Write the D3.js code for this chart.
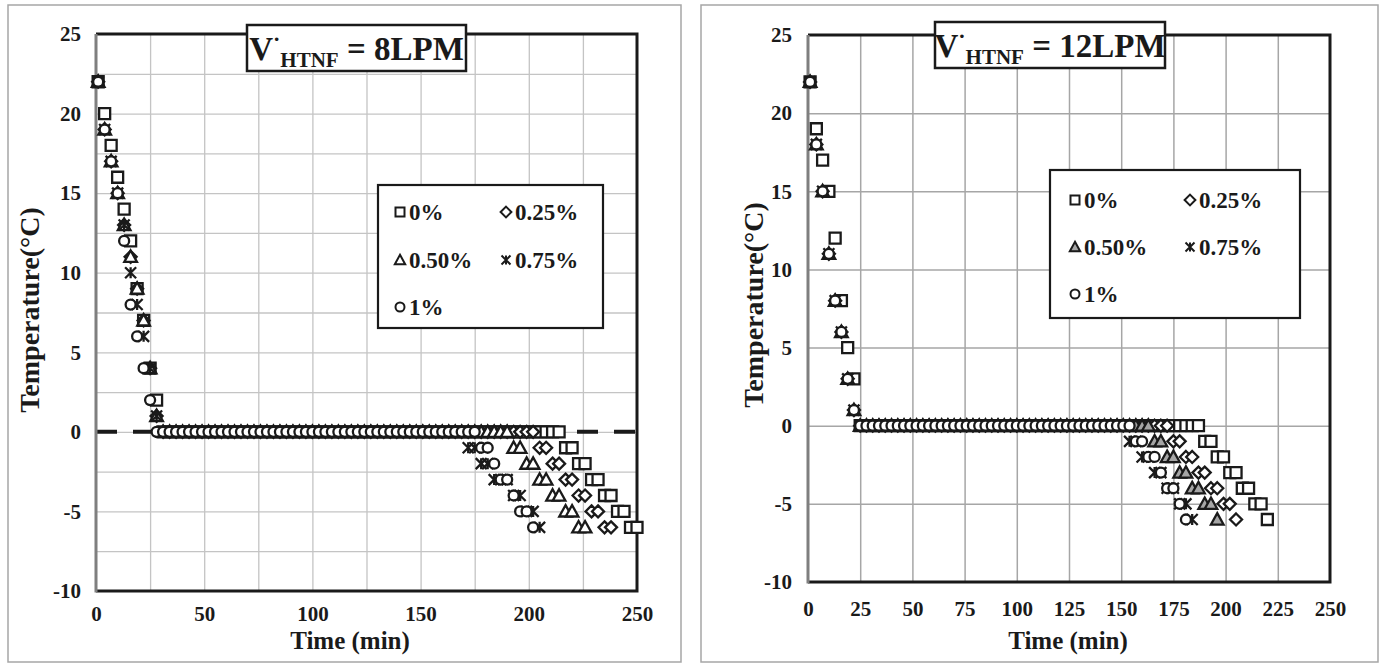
<!DOCTYPE html>
<html>
<head>
<meta charset="utf-8">
<script src="https://cdn.jsdelivr.net/npm/d3@7"></script>
<style>
  body { margin: 0; background: #ffffff; }
  svg text { font-family: "Liberation Serif", "Times New Roman", serif; font-weight: bold; fill: #1a1a1a; }
</style>
</head>
<body>
<svg id="chart" width="1383" height="668"></svg>
<script>
// Sampling instants (min) shared by every run
const timeMin = [1,4,7,10,13,16,19,22,25,28,31,34,37,40,43,46,49,52,55,58,61,64,67,70,73,76,79,82,85,88,
  91,94,97,100,103,106,109,112,115,118,121,124,127,130,133,136,139,142,145,148,151,154,157,160,163,166,169,172,175,178,
  181,184,187,190,193,196,199,202,205,208,211,214,217,220,223,226,229,232,235,238,241,244,247,250];

const seriesNames = ["0%", "0.25%", "0.50%", "0.75%", "1%"];

// Temperature (°C) at each sampling instant, 8 LPM
const temp8_0 = [22,20,18,16,14,12,9,7,4,2,
  0,0,0,0,0,0,0,0,0,0, 0,0,0,0,0,0,0,0,0,0, 0,0,0,0,0,0,0,0,0,0,
  0,0,0,0,0,0,0,0,0,0, 0,0,0,0,0,0,0,0,0,0, 0,0,0,0,0,0,0,0,0,0, 0,0,
  -1,-1,-2,-2,-3,-3,-4,-4,-5,-5,-6,-6];
const temp8_025 = [22,19,17,15,13,11,9,7,4,1,
  0,0,0,0,0,0,0,0,0,0, 0,0,0,0,0,0,0,0,0,0, 0,0,0,0,0,0,0,0,0,0,
  0,0,0,0,0,0,0,0,0,0, 0,0,0,0,0,0,0,0,0,0, 0,0,0,0,0,0,0,0,
  -1,-1,-2,-2,-3,-3,-4,-4,-5,-5,-6,-6];
const temp8_050 = [22,19,17,15,13,11,9,7,4,1,
  0,0,0,0,0,0,0,0,0,0, 0,0,0,0,0,0,0,0,0,0, 0,0,0,0,0,0,0,0,0,0,
  0,0,0,0,0,0,0,0,0,0, 0,0,0,0,0,0,0,0,0,0, 0,0,0,0,
  -1,-1,-2,-2,-3,-3,-4,-4,-5,-5,-6,-6];
const temp8_075 = [22,19,17,15,13,10,8,6,4,1,
  0,0,0,0,0,0,0,0,0,0, 0,0,0,0,0,0,0,0,0,0, 0,0,0,0,0,0,0,0,0,0,
  0,0,0,0,0,0,0,0,0,0, 0,0,0,0,0,0,0,
  -1,-1,-2,-2,-3,-3,-3,-4,-4,-5,-5,-6];
const temp8_100 = [22,19,17,15,12,8,6,4,2,0,
  0,0,0,0,0,0,0,0,0,0, 0,0,0,0,0,0,0,0,0,0, 0,0,0,0,0,0,0,0,0,0,
  0,0,0,0,0,0,0,0,0,0, 0,0,0,0,0,0,0,0,0,
  -1,-1,-2,-3,-3,-4,-5,-5,-6];

// Temperature (°C) at each sampling instant, 12 LPM
const temp12_0 = [22,19,17,15,12,8,5,3,
  0,0,0,0,0,0,0,0,0,0, 0,0,0,0,0,0,0,0,0,0, 0,0,0,0,0,0,0,0,0,0,
  0,0,0,0,0,0,0,0,0,0, 0,0,0,0,0,0,0,0,0,0, 0,0,0,0,0,
  -1,-1,-2,-2,-3,-3,-4,-4,-5,-5,-6];
const temp12_025 = [22,18,15,11,8,6,3,1,
  0,0,0,0,0,0,0,0,0,0, 0,0,0,0,0,0,0,0,0,0, 0,0,0,0,0,0,0,0,0,0,
  0,0,0,0,0,0,0,0,0,0, 0,0,0,0,0,0,0,0,0,0,
  -1,-1,-2,-2,-3,-3,-4,-4,-5,-5,-6];
const temp12_050 = [22,18,15,11,8,6,3,1,
  0,0,0,0,0,0,0,0,0,0, 0,0,0,0,0,0,0,0,0,0, 0,0,0,0,0,0,0,0,0,0,
  0,0,0,0,0,0,0,0,0,0, 0,0,0,0,0,0,0,
  -1,-1,-2,-2,-3,-3,-4,-4,-5,-5,-6];
const temp12_075 = [22,18,15,11,8,6,3,1,
  0,0,0,0,0,0,0,0,0,0, 0,0,0,0,0,0,0,0,0,0, 0,0,0,0,0,0,0,0,0,0,
  0,0,0,0,0,0,0,0,0,0, 0,0,0,
  -1,-1,-2,-2,-3,-3,-4,-4,-5,-5,-6];
const temp12_100 = [22,18,15,11,8,6,3,1,
  0,0,0,0,0,0,0,0,0,0, 0,0,0,0,0,0,0,0,0,0, 0,0,0,0,0,0,0,0,0,0,
  0,0,0,0,0,0,0,0,0,0, 0,0,0,0,
  -1,-1,-2,-2,-3,-4,-4,-5,-6];

// Axis ticks and gridlines
const yTickValues = [-10, -5, 0, 5, 10, 15, 20, 25];
const xTickValues8 = [0, 50, 100, 150, 200, 250];
const xTickValues12 = [0, 25, 50, 75, 100, 125, 150, 175, 200, 225, 250];
const xGridValues = [25, 50, 75, 100, 125, 150, 175, 200, 225];
const yGridValues8 = [-7.5, -5, -2.5, 0, 2.5, 5, 7.5, 10, 12.5, 15, 17.5, 20, 22.5];
const yGridValues12 = [-5, 0, 5, 10, 15, 20];

const flowLabels = ["8LPM", "12LPM"];
const markerShapes = ["square", "diamond", "triangle", "star", "circle"];

const svg = d3.select("#chart");
const INK = "#1a1a1a";
const SERIF = '"Liberation Serif", "Times New Roman", serif';

function markerPath(shape, s) {
  const h = s / 2;
  switch (shape) {
    case "square": return `M${-h},${-h}H${h}V${h}H${-h}Z`;
    case "diamond": { const r = h * 1.2; return `M0,${-r}L${r},0L0,${r}L${-r},0Z`; }
    case "triangle": { const r = h * 1.15; return `M0,${-r}L${r},${r * 0.8}L${-r},${r * 0.8}Z`; }
    case "circle": return `M${h},0A${h},${h} 0 1,1 ${-h},0A${h},${h} 0 1,1 ${h},0Z`;
    case "star": return `M${-h},${-h}L${h},${h}M${h},${-h}L${-h},${h}M0,${-h}V${h}`;
  }
}

function styleLabels(s, size) {
  s.select(".domain").remove();
  s.attr("font-family", null).attr("font-size", null);
  s.selectAll("text")
    .style("font-family", SERIF).style("font-weight", "bold")
    .style("font-size", size + "px").style("fill", INK);
}

function drawPanel(p) {
  const g = svg.append("g");

  // outer frame
  g.append("rect")
    .attr("x", p.frame[0]).attr("y", p.frame[1])
    .attr("width", p.frame[2] - p.frame[0]).attr("height", p.frame[3] - p.frame[1])
    .attr("fill", "#fff").attr("stroke", "#a6a6a6").attr("stroke-width", 1.5);

  const x = d3.scaleLinear().domain([0, 250]).range([p.x0, p.x1]);
  const y = d3.scaleLinear().domain([-10, 25]).range([p.y1, p.y0]);

  // gridlines
  g.append("g").attr("transform", `translate(0,${p.y1})`)
    .call(d3.axisBottom(x).tickValues(xGridValues).tickSize(-(p.y1 - p.y0)).tickFormat(""))
    .call(s => {
      s.select(".domain").remove();
      s.selectAll("line").attr("stroke", p.gridColor).attr("stroke-width", p.gridWidth);
    });
  g.append("g").attr("transform", `translate(${p.x0},0)`)
    .call(d3.axisLeft(y).tickValues(p.yGrid).tickSize(-(p.x1 - p.x0)).tickFormat(""))
    .call(s => {
      s.select(".domain").remove();
      s.selectAll("line").attr("stroke", p.gridColor).attr("stroke-width", p.gridWidth);
    });

  // dashed zero reference
  if (p.zeroDash) {
    g.append("line")
      .attr("x1", x(0)).attr("x2", x(250)).attr("y1", y(0)).attr("y2", y(0))
      .attr("stroke", INK).attr("stroke-width", 4).attr("stroke-dasharray", "21,16");
  }

  // plot border (top, right, bottom) and value axis
  g.append("path")
    .attr("d", `M${p.x0},${p.y0}H${p.x1}V${p.y1}H${p.x0}`)
    .attr("fill", "none").attr("stroke", INK).attr("stroke-width", 3);
  g.append("line")
    .attr("x1", p.x0).attr("x2", p.x0).attr("y1", p.y0).attr("y2", p.y1 + 1.5)
    .attr("stroke", "#7f7f7f").attr("stroke-width", 3);

  // tick labels
  g.append("g").attr("transform", `translate(${p.x0},0)`)
    .call(d3.axisLeft(y).tickValues(yTickValues).tickSize(0).tickPadding(p.yPad).tickFormat(d => String(d)))
    .call(s => styleLabels(s, 21));
  g.append("g").attr("transform", `translate(0,${p.y1})`)
    .call(d3.axisBottom(x).tickValues(p.xTicks).tickSize(0).tickPadding(p.xPad).tickFormat(d => String(d)))
    .call(s => styleLabels(s, 21));

  // data markers
  p.series.forEach((ser, k) => {
    const pts = ser.temps.map((T, i) => ({ t: timeMin[i], T }));
    const shape = markerShapes[k];
    const size = shape === "circle" ? 10 : shape === "diamond" ? 10 : 11;
    g.append("g").selectAll("path").data(pts).join("path")
      .attr("transform", d => `translate(${x(d.t)},${y(d.T)})`)
      .attr("d", markerPath(shape, size))
      .attr("fill", shape === "star" ? "none" : (shape === "triangle" ? p.triFill : "#fff"))
      .attr("stroke", INK).attr("stroke-width", 2.3);
  });

  // title box
  g.append("rect")
    .attr("x", p.title[0]).attr("y", p.title[1])
    .attr("width", p.title[2]).attr("height", p.title[3])
    .attr("fill", "#fff").attr("stroke", INK).attr("stroke-width", 2.5);
  const tt = g.append("text")
    .attr("x", p.title[0] + p.title[2] / 2).attr("y", p.title[1] + 35)
    .attr("text-anchor", "middle").attr("font-size", 33);
  tt.append("tspan").text("V");
  tt.append("tspan").attr("dy", -14).attr("font-size", 22).text("·");
  tt.append("tspan").attr("dy", 21).attr("font-size", 21).text("HTNF");
  tt.append("tspan").attr("dy", -7).attr("font-size", 33).text(" = " + p.flow);

  // legend
  const L = p.legend;
  g.append("rect")
    .attr("x", L.box[0]).attr("y", L.box[1])
    .attr("width", L.box[2] - L.box[0]).attr("height", L.box[3] - L.box[1])
    .attr("fill", "#fff").attr("stroke", INK).attr("stroke-width", 2.2);
  seriesNames.forEach((name, k) => {
    const cx = L.cols[k % 2], cy = L.rows[Math.floor(k / 2)];
    const shape = markerShapes[k];
    g.append("path")
      .attr("transform", `translate(${cx},${cy})`)
      .attr("d", markerPath(shape, 9))
      .attr("fill", shape === "star" ? "none" : (shape === "triangle" ? p.triFill : "#fff"))
      .attr("stroke", INK).attr("stroke-width", 2);
    g.append("text").attr("x", cx + 9).attr("y", cy + 7.5)
      .attr("font-size", 23).text(name);
  });

  // axis titles
  g.append("text")
    .attr("transform", `translate(${p.yTitle[0]},${p.yTitle[1]}) rotate(-90)`)
    .attr("text-anchor", "middle").attr("font-size", 28).text("Temperature(°C)");
  g.append("text")
    .attr("x", p.xTitle[0]).attr("y", p.xTitle[1])
    .attr("text-anchor", "middle").attr("font-size", 25).text("Time (min)");
}

drawPanel({
  frame: [8, 5, 681, 662],
  x0: 96, x1: 637, y0: 34, y1: 591,
  gridColor: "#c4c4c4", gridWidth: 1.3, yGrid: yGridValues8,
  xTicks: xTickValues8, yPad: 15, xPad: 15,
  zeroDash: true, triFill: "#fff",
  series: [{ temps: temp8_0 }, { temps: temp8_025 }, { temps: temp8_050 }, { temps: temp8_075 }, { temps: temp8_100 }],
  title: [247, 25, 219, 46], flow: flowLabels[0],
  legend: { box: [378, 185, 603, 328], cols: [400, 506], rows: [212, 260, 307] },
  yTitle: [39, 310], xTitle: [350, 649]
});

drawPanel({
  frame: [701, 5, 1378, 662],
  x0: 808, x1: 1330, y0: 35, y1: 582,
  gridColor: "#a6a6a6", gridWidth: 1.5, yGrid: yGridValues12,
  xTicks: xTickValues12, yPad: 16, xPad: 19,
  zeroDash: false, triFill: "#a6a6a6",
  series: [{ temps: temp12_0 }, { temps: temp12_025 }, { temps: temp12_050 }, { temps: temp12_075 }, { temps: temp12_100 }],
  title: [935, 22, 230, 46], flow: flowLabels[1],
  legend: { box: [1050, 170, 1300, 318], cols: [1075, 1190], rows: [200, 247, 294] },
  yTitle: [763, 305], xTitle: [1068, 649]
});
</script>
</body>
</html>
